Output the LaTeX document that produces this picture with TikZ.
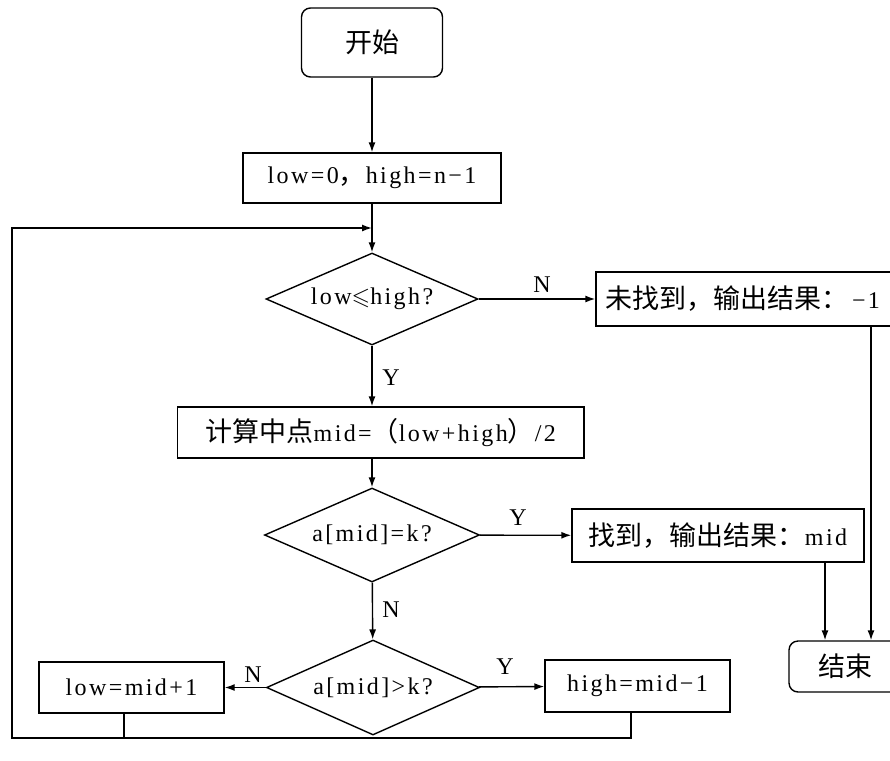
\documentclass[tikz,border=0pt]{standalone}
\usepackage{amssymb}
\usepackage{fontspec}
\setmainfont{Liberation Serif}[LetterSpace=10]
\newfontfamily\cjk{Noto Sans CJK SC}
\usepackage{tikz}
\usetikzlibrary{positioning}
\usetikzlibrary{arrows.meta}
\usetikzlibrary{shapes.geometric}

\newcommand{\zhtext}[1]{{\cjk\fontsize{27}{29}\selectfont #1}}

\begin{document}
\begin{tikzpicture}[x=1pt,y=-1pt,font=\fontsize{24}{28}\selectfont]
        \tikzstyle{box}=[rectangle,draw,line width=1.4pt,inner sep=0pt]
        \tikzstyle{terminal}=[box,rounded corners=9pt]
        \tikzstyle{decision}=[diamond,draw,line width=1.4pt,inner sep=0pt,
            shape aspect=2.25]
        \tikzstyle{arr}=[line width=1.4pt,-{Latex[length=10pt,width=7pt]}]
        \tikzstyle{line}=[line width=1.4pt]

        \useasboundingbox (0,0) rectangle (890,760);

            % main column
            \node[terminal, minimum width=141pt, minimum height=69pt]
            (start) at (372,42.5) {\zhtext{开始}};
            \node[box, minimum width=258pt, minimum height=50pt]
            (init) at (372,178) {low=0\zhtext{，}high=n−1};
            \node[decision, minimum width=212pt, minimum height=92pt]
            (cond1) at (372,299) {low\ensuremath{\leqslant}high?};
            \node[box, minimum height=51pt, inner xsep=28pt, anchor=west]
            (calc) at (177,432.5)
            {\zhtext{计算中点}mid=\zhtext{（}low+high\zhtext{）}/2};
            \node[decision, minimum width=215pt, minimum height=94pt]
            (cond2) at (372,535) {a[mid]=k?};
            \node[decision, minimum width=213pt, minimum height=95pt]
            (cond3) at (373,687.5) {a[mid]>k?};

            % branches
            \node[box, minimum width=306pt, minimum height=54pt,
            text width=288pt, align=left, inner xsep=9pt]
            (notfound) at (749,299) {\zhtext{未找到，输出结果：}\,−1};
            \node[box, minimum width=292pt, minimum height=53pt]
            (found) at (718,535.5) {\zhtext{找到，输出结果：}mid};
            \node[box, minimum width=185pt, minimum height=51pt]
            (lowbox) at (131.5,687.5) {low=mid+1};
            \node[box, minimum width=185pt, minimum height=52pt]
            (highbox) at (637.5,686) {high=mid−1};
            \node[terminal, minimum width=112pt, minimum height=51pt]
            (fin) at (845,666.5) {\zhtext{结束}};

            \coordinate (entry) at (372,228);
            \coordinate (back) at (12,738);

            \draw[arr] (start) -- (init);
            \draw[line] (init) -- (entry);
            \draw[arr] (entry) -- (cond1);
            \draw[arr] (cond1.south) -- (cond1.south |- calc.north);
            \draw[arr] (cond2.north |- calc.south) -- (cond2.north);
            \draw[arr] (cond2) -- (cond3);

            \draw[arr] (cond1) -- (notfound);
            \draw[arr] (cond2) -- (found);
            \draw[arr] (cond3) -- (lowbox);
            \draw[arr] (cond3) -- (highbox);

            \draw[arr] ([xshift=107pt]found.south) --
            ([xshift=107pt]found.south |- fin.north);
            \draw[arr] ([xshift=122pt]notfound.south) --
            ([xshift=122pt]notfound.south |- fin.north);

            % back to the test
            \draw[line] ([xshift=-7.5pt]lowbox.south) --
            ([xshift=-7.5pt]lowbox.south |- back);
            \draw[arr] ([xshift=-6.5pt]highbox.south) |- (back) |- (entry);

            % branch labels
            \node (n1) at (542,285) {N};
            \node (y1) at (391,378) {Y};
            \node (y2) at (518,518) {Y};
            \node (n2) at (391,610) {N};
            \node (n3) at (253,675) {N};
            \node (y3) at (505,667) {Y};
    \end{tikzpicture}
\end{document}
